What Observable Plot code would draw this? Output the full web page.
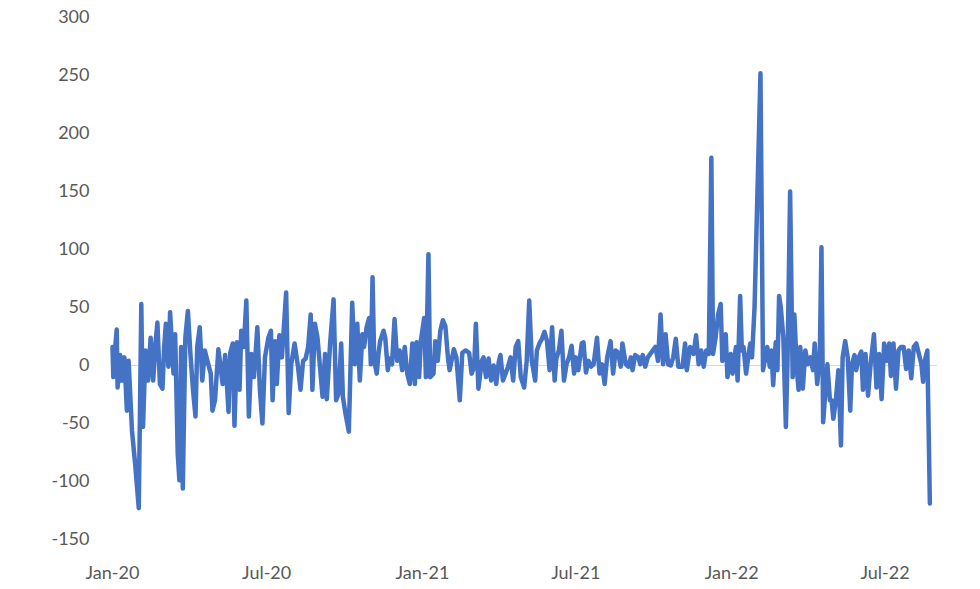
<!DOCTYPE html>
<html><head><meta charset="utf-8">
<script src="https://cdn.jsdelivr.net/npm/d3@7"></script>
<script src="https://cdn.jsdelivr.net/npm/@observablehq/plot@0.6"></script>
<style>
html,body{margin:0;padding:0;background:#fff;}
#chart{width:980px;height:589px;}
</style></head><body><div id="chart"></div>
<script>
const dates2020 = ["2020-01-01","2020-01-02","2020-01-04","2020-01-06","2020-01-07","2020-01-10","2020-01-12","2020-01-15","2020-01-18","2020-01-20","2020-01-24","2020-01-28","2020-02-01","2020-02-04","2020-02-06","2020-02-09","2020-02-12","2020-02-15","2020-02-18","2020-02-21","2020-02-23","2020-02-26","2020-02-29","2020-03-02","2020-03-04","2020-03-07","2020-03-09","2020-03-13","2020-03-15","2020-03-18","2020-03-20","2020-03-22","2020-03-24","2020-03-27","2020-03-30","2020-04-02","2020-04-05","2020-04-08","2020-04-10","2020-04-13","2020-04-16","2020-04-19","2020-04-22","2020-04-26","2020-04-28","2020-05-01","2020-05-05","2020-05-10","2020-05-13","2020-05-17","2020-05-19","2020-05-22","2020-05-24","2020-05-27","2020-05-30","2020-06-01","2020-06-04","2020-06-07","2020-06-10","2020-06-13","2020-06-16","2020-06-20","2020-06-23","2020-06-26","2020-06-29","2020-07-03","2020-07-06","2020-07-08","2020-07-11","2020-07-13","2020-07-16","2020-07-19","2020-07-24","2020-07-27","2020-07-30","2020-08-03","2020-08-07","2020-08-10","2020-08-13","2020-08-16","2020-08-19","2020-08-22","2020-08-24","2020-08-27","2020-08-30","2020-09-01","2020-09-05","2020-09-08","2020-09-10","2020-09-14","2020-09-18","2020-09-21","2020-09-24","2020-09-27","2020-09-29","2020-10-02","2020-10-06","2020-10-10","2020-10-13","2020-10-16","2020-10-19","2020-10-22","2020-10-24","2020-10-27","2020-10-30","2020-11-01","2020-11-03","2020-11-05","2020-11-08","2020-11-10","2020-11-12","2020-11-16","2020-11-18","2020-11-21","2020-11-23","2020-11-26","2020-11-29","2020-12-02","2020-12-05","2020-12-08","2020-12-11","2020-12-14","2020-12-17","2020-12-20","2020-12-23","2020-12-25","2020-12-28","2020-12-30"];
const values2020 = [16,-10,14,31,-19,9,-13,7,-39,4,-56,-87,-123,53,-53,13,-13,24,-13,21,37,-16,-20,16,36,-1,46,-7,27,-76,-99,16,-106,24,47,10,-21,-44,16,33,-13,13,4,-7,-39,-30,14,-16,9,-40,11,19,-52,20,-21,30,16,56,-44,10,-10,33,-21,-50,7,24,30,-30,21,-16,26,7,63,-41,1,19,-1,-21,4,6,16,44,-21,36,24,7,-27,10,-29,20,57,-30,-24,19,-27,-41,-57,54,1,36,-13,27,16,33,41,1,76,4,-7,10,21,30,24,-4,6,1,40,4,13,-4,16,-7,-16,19,-16,20,-10,21];

const dates2021 = ["2021-01-03","2021-01-05","2021-01-08","2021-01-10","2021-01-14","2021-01-16","2021-01-19","2021-01-22","2021-01-25","2021-01-28","2021-01-31","2021-02-02","2021-02-07","2021-02-10","2021-02-14","2021-02-17","2021-02-21","2021-02-25","2021-02-28","2021-03-03","2021-03-05","2021-03-08","2021-03-12","2021-03-14","2021-03-17","2021-03-20","2021-03-23","2021-03-26","2021-03-29","2021-04-01","2021-04-03","2021-04-06","2021-04-09","2021-04-12","2021-04-15","2021-04-18","2021-04-21","2021-04-24","2021-04-27","2021-05-01","2021-05-04","2021-05-07","2021-05-10","2021-05-14","2021-05-16","2021-05-19","2021-05-22","2021-05-25","2021-05-28","2021-05-31","2021-06-03","2021-06-06","2021-06-08","2021-06-11","2021-06-14","2021-06-17","2021-06-20","2021-06-23","2021-06-26","2021-06-29","2021-07-01","2021-07-04","2021-07-08","2021-07-10","2021-07-13","2021-07-16","2021-07-19","2021-07-22","2021-07-26","2021-07-29","2021-08-01","2021-08-04","2021-08-07","2021-08-11","2021-08-14","2021-08-17","2021-08-20","2021-08-23","2021-08-25","2021-08-29","2021-09-01","2021-09-04","2021-09-06","2021-09-09","2021-09-13","2021-09-15","2021-09-18","2021-09-21","2021-09-24","2021-09-27","2021-09-30","2021-10-03","2021-10-06","2021-10-09","2021-10-12","2021-10-15","2021-10-18","2021-10-21","2021-10-24","2021-10-27","2021-10-30","2021-11-04","2021-11-07","2021-11-09","2021-11-13","2021-11-17","2021-11-20","2021-11-23","2021-11-26","2021-11-29","2021-12-02","2021-12-05","2021-12-08","2021-12-10","2021-12-13","2021-12-16","2021-12-19","2021-12-21","2021-12-25","2021-12-27","2021-12-31"];
const values2021 = [41,-10,96,-10,-7,21,4,30,39,34,7,-4,14,7,-30,11,13,11,-7,-1,36,-20,4,7,-10,6,-13,0,-16,3,9,-13,-7,-1,7,-13,16,21,-10,-19,4,56,4,-13,13,19,23,29,21,-4,33,-13,6,13,30,-13,1,7,17,-7,7,-4,19,20,-6,4,-1,1,24,-7,1,-16,7,21,-7,13,11,-1,19,1,-1,7,-4,9,7,1,9,-1,7,10,13,16,4,44,1,27,1,0,7,23,-1,-1,19,-4,16,10,26,1,13,-1,13,10,179,10,24,44,53,4,27,-10,10];

const dates2022 = ["2022-01-02","2022-01-06","2022-01-08","2022-01-11","2022-01-13","2022-01-15","2022-01-18","2022-01-21","2022-01-23","2022-01-25","2022-01-28","2022-02-04","2022-02-07","2022-02-09","2022-02-12","2022-02-15","2022-02-17","2022-02-19","2022-02-22","2022-02-24","2022-02-26","2022-02-28","2022-03-03","2022-03-06","2022-03-08","2022-03-11","2022-03-14","2022-03-16","2022-03-19","2022-03-21","2022-03-23","2022-03-26","2022-03-29","2022-04-01","2022-04-04","2022-04-07","2022-04-09","2022-04-12","2022-04-15","2022-04-17","2022-04-19","2022-04-22","2022-04-24","2022-04-27","2022-04-29","2022-05-01","2022-05-04","2022-05-07","2022-05-10","2022-05-12","2022-05-15","2022-05-18","2022-05-21","2022-05-23","2022-05-26","2022-05-28","2022-05-31","2022-06-03","2022-06-05","2022-06-08","2022-06-11","2022-06-14","2022-06-18","2022-06-21","2022-06-24","2022-06-27","2022-06-30","2022-07-03","2022-07-06","2022-07-08","2022-07-11","2022-07-14","2022-07-17","2022-07-20","2022-07-23","2022-07-26","2022-07-29","2022-08-01","2022-08-04","2022-08-07","2022-08-10","2022-08-13","2022-08-15","2022-08-17","2022-08-20","2022-08-23"];
const values2022 = [-7,16,-13,60,13,16,-7,10,19,7,50,252,-4,4,16,-1,13,-17,20,-4,60,50,24,-53,7,150,-10,44,-4,-21,16,-20,13,1,7,-4,19,-16,7,102,-49,-19,1,-30,-30,-46,-30,-4,-69,7,21,7,-39,1,9,-4,7,12,-21,10,-26,1,27,-19,10,-29,19,4,19,-9,19,-20,13,16,16,-3,13,-11,16,19,10,1,-14,4,13,-119];

const yTicks = [-150,-100,-50,0,50,100,150,200,250,300];
const xTickDates = ["2020-01-01","2020-07-01","2021-01-01","2021-07-01","2022-01-01","2022-07-01"];
const xTickLabels = ["Jan-20","Jul-20","Jan-21","Jul-21","Jan-22","Jul-22"];

const parse = d3.utcParse("%Y-%m-%d");
const data = [];
[[dates2020, values2020],[dates2021, values2021],[dates2022, values2022]].forEach(([ds, vs]) => {
  ds.forEach((d, i) => data.push({date: parse(d), value: vs[i]}));
});
const tickDates = xTickDates.map(parse);
const labelMap = new Map(tickDates.map((d, i) => [+d, xTickLabels[i]]));

const chart = Plot.plot({
  width: 980,
  height: 589,
  marginTop: 17,
  marginBottom: 50,
  marginLeft: 112,
  marginRight: 43,
  style: {fontFamily: "Lato, 'Open Sans', sans-serif", fontSize: "18px", color: "#595959", background: "#ffffff"},
  x: {type: "utc", domain: [parse("2020-01-01"), parse("2022-09-01")]},
  y: {domain: [-150, 300]},
  marks: [
    Plot.ruleY([0], {stroke: "#D9D9D9", strokeWidth: 1}),
    Plot.lineY(data, {x: "date", y: "value", stroke: "#4472C4", strokeWidth: 4.5, strokeLinejoin: "round", strokeLinecap: "round"}),
    Plot.axisY(yTicks, {tickSize: 0, tickPadding: 23, label: null, tickFormat: d => String(d), fontSize: 18, fill: "#595959"}),
    Plot.axisX(tickDates, {tickSize: 0, tickPadding: 27, label: null, tickFormat: d => labelMap.get(+d), fontSize: 18, fill: "#595959"})
  ]
});
document.getElementById("chart").appendChild(chart);
</script>
</body></html>
